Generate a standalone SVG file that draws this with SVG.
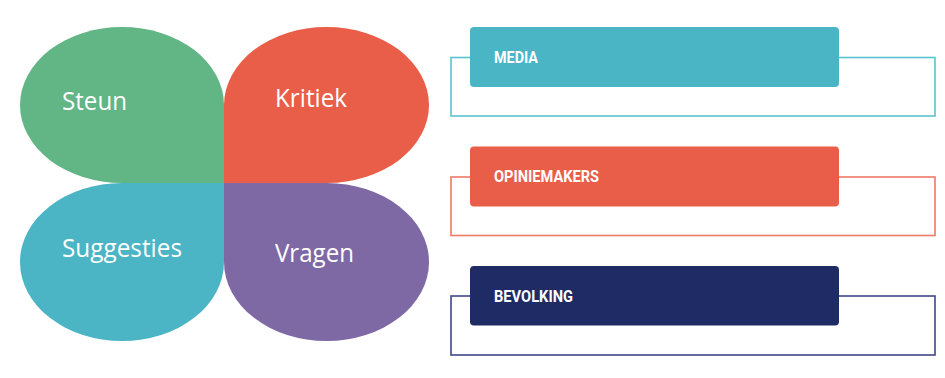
<svg xmlns="http://www.w3.org/2000/svg" width="945" height="378" viewBox="0 0 945 378">
<style>
.leaf-text{font-family:"Open Sans","Noto Sans",sans-serif;font-size:25.5px;fill:#ffffff}
.box-text{font-family:Roboto,"Liberation Sans",sans-serif;font-weight:bold;font-size:17px;fill:#ffffff}
.outline{fill:none;stroke-width:1.6}
</style>
<rect width="945" height="378" fill="#ffffff"/>
<g id="steun">
<path d="M224 183 L122 183 A102 78 0 0 1 20 105 A102 78 0 0 1 122 27 A102 78 0 0 1 224 105 Z" fill="#62B584"/>
<text class="leaf-text" x="62" y="110" textLength="65" lengthAdjust="spacingAndGlyphs">Steun</text>
</g>
<g id="kritiek">
<path d="M224 183 L224 105 A102.5 78 0 0 1 326.5 27 A102.5 78 0 0 1 429 105 A102.5 78 0 0 1 326.5 183 Z" fill="#E85E48"/>
<text class="leaf-text" x="275" y="107" textLength="72" lengthAdjust="spacingAndGlyphs">Kritiek</text>
</g>
<g id="suggesties">
<path d="M224 183 L224 262 A102 79 0 0 1 122 341 A102 79 0 0 1 20 262 A102 79 0 0 1 122 183 Z" fill="#4BB4C5"/>
<text class="leaf-text" x="62" y="257" textLength="120" lengthAdjust="spacingAndGlyphs">Suggesties</text>
</g>
<g id="vragen">
<path d="M224 183 L326.5 183 A102.5 79 0 0 1 429 262 A102.5 79 0 0 1 326.5 341 A102.5 79 0 0 1 224 262 Z" fill="#7E69A5"/>
<text class="leaf-text" x="275" y="262" textLength="79" lengthAdjust="spacingAndGlyphs">Vragen</text>
</g>
<g id="media">
<rect class="outline" x="451" y="57.5" width="484" height="58.5" stroke="#5CC3D0"/>
<rect x="470" y="27" width="369" height="60" rx="4" fill="#4AB5C4"/>
<text class="box-text" x="494" y="62.5" textLength="44" lengthAdjust="spacingAndGlyphs">MEDIA</text>
</g>
<g id="opiniemakers">
<rect class="outline" x="451" y="177" width="484" height="58.5" stroke="#EF7A67"/>
<rect x="470" y="146.5" width="369" height="60" rx="4" fill="#E85E48"/>
<text class="box-text" x="494" y="182" textLength="105" lengthAdjust="spacingAndGlyphs">OPINIEMAKERS</text>
</g>
<g id="bevolking">
<rect class="outline" x="451" y="296" width="484" height="59" stroke="#3F4787"/>
<rect x="470" y="266" width="369" height="59.5" rx="4" fill="#1E2B65"/>
<text class="box-text" x="494" y="301.5" textLength="79" lengthAdjust="spacingAndGlyphs">BEVOLKING</text>
</g>
</svg>
